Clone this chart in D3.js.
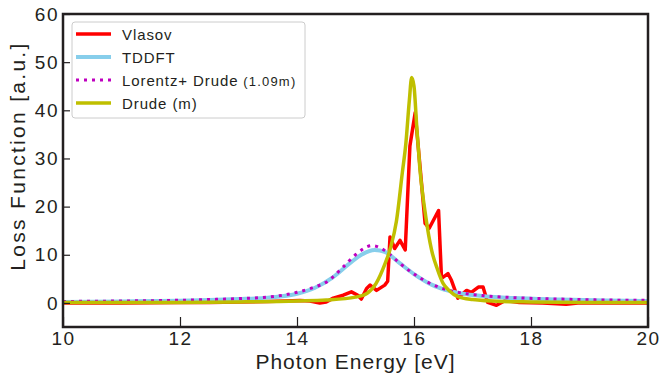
<!DOCTYPE html>
<html>
<head>
<meta charset="utf-8">
<script src="https://cdn.jsdelivr.net/npm/d3@7"></script>
<style>
  body { margin: 0; background: #fff; }
  text { font-family: "Liberation Sans", Arial, sans-serif; fill: #231f20; }
</style>
</head>
<body>
<div id="chart"></div>
<script>
// Loss function data
var xTicks = [10, 12, 14, 16, 18, 20];
var yTicks = [0, 10, 20, 30, 40, 50, 60];

var vlasovE = [10, 11, 12, 12.5, 13, 13.5, 13.8, 14.05, 14.22, 14.39, 14.5, 14.62, 14.79, 14.93, 15.04, 15.1,
    15.19, 15.25, 15.36, 15.5, 15.55, 15.59, 15.67, 15.76, 15.85, 15.93, 16.02, 16.19, 16.26, 16.42, 16.47,
    16.58, 16.64, 16.75, 16.9, 16.98, 17.1, 17.18, 17.26, 17.41, 17.56, 17.8, 18.2, 18.6, 18.8, 19.5, 20];
var vlasovY = [0, 0, 0.1, 0.1, 0.2, 0.3, 0.4, 0.5, 0.4, 0, 0.2, 1, 1.6, 2.3, 1.6, 0.8,
    3.0, 3.7, 2.6, 3.7, 4.5, 13.7, 11.3, 13, 11, 32.6, 39.5, 16.5, 15.5, 19.2, 5.1,
    6.1, 4.7, 1, 2.6, 2.2, 3.3, 3.3, 0.1, -0.5, 0.5, 0.1, 0, -0.3, 0, 0, 0];

var tddftE = [10, 11, 12, 12.5, 13, 13.5, 14, 14.3, 14.6, 14.9, 15.1, 15.33, 15.5, 15.75, 16.0, 16.3, 16.6,
    16.9, 17.2, 17.7, 18.5, 19.3, 20];
var tddftY = [0.2, 0.3, 0.45, 0.6, 0.8, 1.1, 1.9, 3.1, 5.2, 8.2, 10.0, 11.0, 10.6, 8.3, 6.0, 3.8, 2.5,
    1.8, 1.4, 1.0, 0.7, 0.5, 0.4];

var lorentzE = [10, 11, 12, 12.5, 13, 13.5, 14, 14.3, 14.5, 14.8, 15.0, 15.28, 15.5, 15.75, 16.0, 16.3, 16.6,
    16.9, 17.2, 17.7, 18.5, 19.3, 20];
var lorentzY = [0.3, 0.4, 0.55, 0.7, 0.9, 1.2, 2.2, 3.3, 4.3, 7.6, 10.0, 11.9, 10.9, 8.3, 6.0, 3.9, 2.6,
    1.9, 1.5, 1.1, 0.8, 0.6, 0.55];

var drudeE = [10, 12, 13, 14, 14.5, 15.0, 15.2, 15.35, 15.5, 15.6, 15.7, 15.8, 15.86, 15.92, 15.96, 16.0,
    16.05, 16.1, 16.2, 16.3, 16.4, 16.5, 16.6, 16.75, 17, 17.5, 18, 19, 20];
var drudeY = [0.1, 0.1, 0.2, 0.4, 0.6, 1.2, 2, 4, 8, 11.5, 17, 27, 33, 42, 46.8, 45,
    36, 28, 18, 11, 7, 4, 2.6, 1.3, 0.7, 0.3, 0.2, 0.1, 0.1];

var series = [
    {name: "Vlasov", e: vlasovE, y: vlasovY, color: "#ff0000", width: 3.5, dash: null, smooth: false},
    {name: "TDDFT", e: tddftE, y: tddftY, color: "#87ceeb", width: 4, dash: null, smooth: true},
    {name: "Lorentz+ Drude", small: "(1.09m)", e: lorentzE, y: lorentzY, color: "#bf00bf", width: 3, dash: "3,5", smooth: true},
    {name: "Drude (m)", e: drudeE, y: drudeY, color: "#bfbf00", width: 3.5, dash: null, smooth: true}
];

var W = 659, H = 382;
var pLeft = 63, pRight = 648, pTop = 14, pBottom = 327;

var svg = d3.select("#chart").append("svg")
    .attr("width", W)
    .attr("height", H);

var x = d3.scaleLinear().domain([10, 20]).range([pLeft, pRight]);
var y = d3.scaleLinear().domain([-5, 60]).range([pBottom, pTop]);

// clip the curves to the plot area
svg.append("defs").append("clipPath").attr("id", "plotClip")
    .append("rect")
    .attr("x", pLeft).attr("y", pTop)
    .attr("width", pRight - pLeft).attr("height", pBottom - pTop);

var plot = svg.append("g").attr("clip-path", "url(#plotClip)");

series.forEach(function (s) {
    var pts = s.e.map(function (e, i) { return [e, s.y[i]]; });
    var line = d3.line()
        .x(function (d) { return x(d[0]); })
        .y(function (d) { return y(d[1]); })
        .curve(s.smooth ? d3.curveMonotoneX : d3.curveLinear);
    plot.append("path")
        .datum(pts)
        .attr("d", line)
        .attr("fill", "none")
        .attr("stroke", s.color)
        .attr("stroke-width", s.width)
        .attr("stroke-linejoin", "round")
        .attr("stroke-dasharray", s.dash);
});

// Axes with inward ticks
var xAxis = svg.append("g")
    .attr("transform", "translate(0," + pBottom + ")")
    .call(d3.axisBottom(x).tickValues(xTicks).tickSizeInner(-10).tickSizeOuter(0).tickPadding(5));
var yAxis = svg.append("g")
    .attr("transform", "translate(" + pLeft + ",0)")
    .call(d3.axisLeft(y).tickValues(yTicks).tickSizeInner(-7).tickSizeOuter(0).tickPadding(4));

[xAxis, yAxis].forEach(function (a) {
    a.select(".domain").remove();
    a.selectAll(".tick line").attr("stroke", "#231f20").attr("stroke-width", 1.2);
    a.selectAll(".tick text")
        .style("font-size", "19px")
        .style("letter-spacing", "1.5px")
        .attr("fill", "#231f20");
});

// frame
svg.append("rect")
    .attr("x", pLeft).attr("y", pTop)
    .attr("width", pRight - pLeft).attr("height", pBottom - pTop)
    .attr("fill", "none")
    .attr("stroke", "#231f20")
    .attr("stroke-width", 2.5);

// axis titles
svg.append("text")
    .attr("x", (pLeft + pRight) / 2)
    .attr("y", 369)
    .attr("text-anchor", "middle")
    .style("font-size", "21px")
    .style("letter-spacing", "1px")
    .text("Photon Energy [eV]");

svg.append("text")
    .attr("transform", "translate(25,156) rotate(-90)")
    .attr("text-anchor", "middle")
    .style("font-size", "21px")
    .style("letter-spacing", "2.3px")
    .text("Loss Function [a.u.]");

// legend
var legend = svg.append("g");
legend.append("rect")
    .attr("x", 72).attr("y", 22)
    .attr("width", 233).attr("height", 96)
    .attr("rx", 3)
    .attr("fill", "#fff")
    .attr("stroke", "#cccccc")
    .attr("stroke-width", 1);

series.forEach(function (s, i) {
    var ly = 34 + i * 23;
    legend.append("line")
        .attr("x1", 76).attr("x2", 111)
        .attr("y1", ly).attr("y2", ly)
        .attr("stroke", s.color)
        .attr("stroke-width", s.width)
        .attr("stroke-dasharray", s.dash);
    var t = legend.append("text")
        .attr("x", 122)
        .attr("y", ly + 5.5)
        .style("font-size", "15px")
        .style("letter-spacing", "0.9px");
    t.append("tspan").text(s.name);
    if (s.small) {
        t.append("tspan").style("font-size", "13px").style("letter-spacing", "1.2px").text(" " + s.small);
    }
});
</script>
</body>
</html>
